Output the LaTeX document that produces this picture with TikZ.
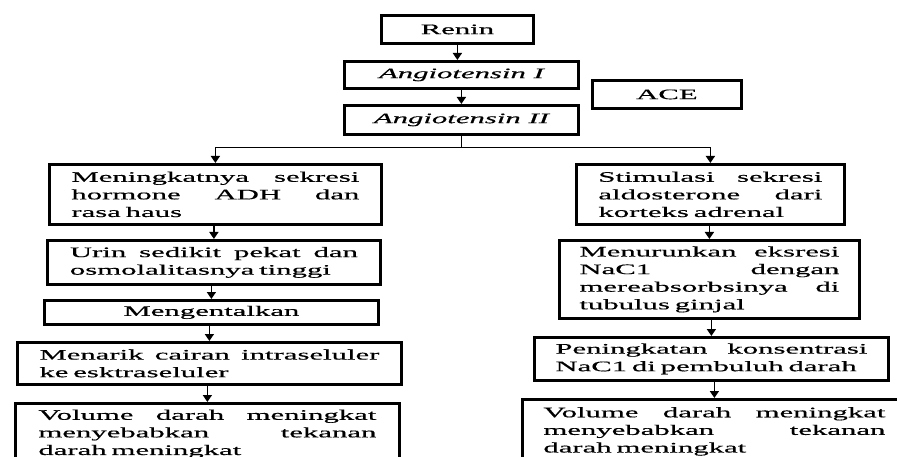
\documentclass[tikz,border=0pt]{standalone}
\usepackage{fontspec}
\setmainfont{Liberation Serif}[FakeStretch=2.12,FakeBold=0.5]
\usetikzlibrary{arrows.meta}
\newcommand{\jline}[2]{\leavevmode\hbox to #1pt{#2}}
\begin{document}
\begin{tikzpicture}[x=1pt,y=-1pt,
  box/.style={draw, line width=2.8pt, anchor=north west, inner ysep=0pt,
    font=\fontsize{14.5}{17.6}\selectfont},
  para/.style={box, align=left},
  arr/.style={line width=1.4pt, -{Triangle[width=9pt,length=7pt]}},
  conn/.style={line width=1.4pt}]
\useasboundingbox (0,0) rectangle (897,457);
\clip (0,0) rectangle (897,457);
% top chain
\node[box, minimum width=152, minimum height=28] (renin) at (380,14) {Renin};
\node[box, minimum width=234, minimum height=27] (ang1) at (343,60) {\itshape Angiotensin I};
\node[box, minimum width=149, minimum height=28] (ace) at (591,79) {ACE};
\node[box, minimum width=234, minimum height=29] (ang2) at (343,104) {\itshape Angiotensin II};
% left column
\node[para, text width=288, inner xsep=22, minimum height=60] (l1) at (48,163)
  {\jline{288}{Meningkatnya\hfill sekresi}\\\jline{288}{hormone\hfill ADH\hfill dan}\\rasa haus};
\node[para, text width=288, inner xsep=22.5, minimum height=44] (l2) at (46,239)
  {\jline{288}{Urin\hfill sedikit\hfill pekat\hfill dan}\\osmolalitasnya tinggi};
\node[box, minimum width=334, minimum height=24] (l3) at (43,299) {Mengentalkan};
\node[para, text width=340, inner xsep=22, minimum height=42] (l4) at (16,341)
  {\jline{340}{Menarik\hfill cairan\hfill intraseluler}\\ke esktraseluler};
\node[para, text width=338, inner xsep=23, minimum height=61] (l5) at (14,402)
  {\jline{338}{Volume\hfill darah\hfill meningkat}\\\jline{338}{menyebabkan\hfill tekanan}\\darah meningkat};
% right column
\node[para, text width=224, inner xsep=22, minimum height=60] (r1) at (575,163)
  {\jline{224}{Stimulasi\hfill sekresi}\\\jline{224}{aldosterone\hfill dari}\\korteks adrenal};
\node[para, text width=260, inner xsep=20, minimum height=78] (r2) at (558,239)
  {\jline{260}{Menurunkan\hfill eksresi}\\\jline{260}{NaC1\hfill dengan}\\\jline{260}{mereabsorbsinya\hfill di}\\tubulus ginjal};
\node[para, text width=312, inner xsep=21, minimum height=43] (r3) at (533,336)
  {\jline{312}{Peningkatan\hfill konsentrasi}\\NaC1 di pembuluh darah};
\node[para, text width=342, inner xsep=21, minimum height=64] (r4) at (521,398)
  {\jline{342}{Volume\hfill darah\hfill meningkat}\\\jline{342}{menyebabkan\hfill tekanan}\\darah meningkat};
% connectors
\draw[arr] (renin.south) -- (renin.south |- ang1.north);
\draw[arr] (ang1.south) -- (ang2.north);
\path (ang2.south) ++(0,12) coordinate (jc);
\draw[conn] (ang2.south) -- (jc);
\draw[arr] (jc) -| (l1.north);
\draw[arr] (jc) -| (r1.north);
\draw[arr] (l2.north |- l1.south) -- (l2.north);
\draw[arr] (l3.north |- l2.south) -- (l3.north);
\draw[arr] (l4.north |- l3.south) -- (l4.north);
\draw[arr] (l5.north |- l4.south) -- (l5.north);
\draw[arr] (r2.north |- r1.south) -- (r2.north);
\draw[arr] (r3.north |- r2.south) -- (r3.north);
\draw[arr] (r4.north |- r3.south) -- (r4.north);
\end{tikzpicture}
\end{document}
